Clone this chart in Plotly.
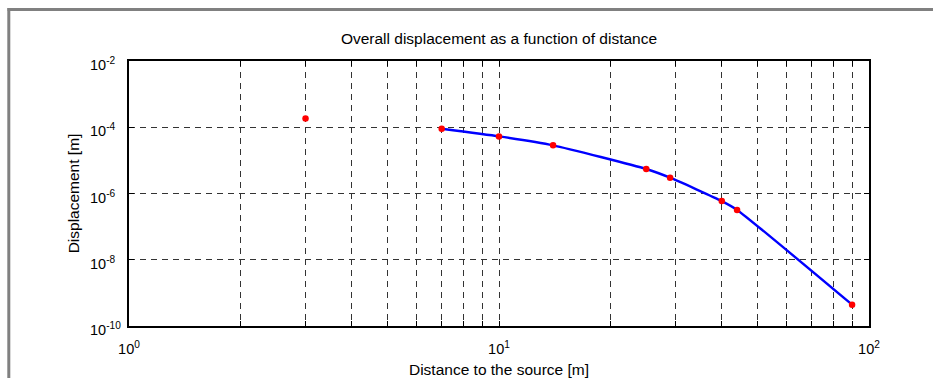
import plotly.graph_objects as go
import math

# Data
dist_all = [3, 7, 10, 14, 25, 29, 40, 44, 90]
disp_all = [1.85e-4, 9.0e-5, 5.3e-5, 2.85e-5, 5.5e-6, 3.0e-6, 5.9e-7, 3.2e-7, 4.4e-10]
dist_curve = [7, 10, 14, 25, 29, 40, 44, 90]
disp_curve = [9.0e-5, 5.3e-5, 2.85e-5, 5.5e-6, 3.0e-6, 5.9e-7, 3.2e-7, 4.4e-10]

x_grid = [m * 10 ** e for e in range(0, 2) for m in range(1, 10)] + [100]
x_text = ["10<sup>0</sup>" if v == 1 else "10<sup>1</sup>" if v == 10 else "10<sup>2</sup>" if v == 100 else "" for v in x_grid]
y_ticks = [1e-10, 1e-8, 1e-6, 1e-4, 1e-2]
y_text = ["10<sup>-10</sup>", "10<sup>-8</sup>", "10<sup>-6</sup>", "10<sup>-4</sup>", "10<sup>-2</sup>"]

FONT = "Arial, Liberation Sans, sans-serif"
LBL = 15.5
TCK = 14.5

fig = go.Figure()
fig.add_trace(go.Scatter(x=dist_curve, y=disp_curve, mode="lines",
                         line=dict(color="#0000ff", width=2.4, shape="spline", smoothing=0.5),
                         hoverinfo="skip", showlegend=False))
fig.add_trace(go.Scatter(x=dist_all, y=disp_all, mode="markers",
                         marker=dict(color="#ff0000", size=6.5),
                         showlegend=False))

grid = dict(showgrid=True, gridcolor="#333333", gridwidth=1, griddash="6px,5px")

fig.update_xaxes(type="log", range=[0, 2], tickmode="array", tickvals=x_grid, ticktext=x_text,
                 ticks="inside", ticklen=5, tickcolor="black", showline=True, linecolor="black",
                 linewidth=1.5, mirror="ticks", zeroline=False, ticklabelstandoff=9,
                 title=dict(text="Distance to the source [m]", font=dict(size=LBL, family=FONT, color="black"), standoff=11),
                 tickfont=dict(size=TCK, family=FONT, color="black"), **grid)
fig.update_yaxes(type="log", range=[-10, -2], tickmode="array", tickvals=y_ticks, ticktext=y_text,
                 ticks="inside", ticklen=5, tickcolor="black", showline=True, linecolor="black",
                 linewidth=1.5, mirror="ticks", zeroline=False, showticklabels=False,
                 title=dict(text="Displacement [m]", font=dict(size=LBL, family=FONT, color="black"), standoff=44),
                 tickfont=dict(size=TCK, family=FONT, color="black"), **grid)

W, H = 933, 378
L, R, T, B = 129, 869, 61, 326
pw, ph = R - L, B - T

def px(x):
    return (x - L) / pw

def py(y):
    return (B - y) / ph

# y tick labels, left-aligned on the "10" like the reference
for v, t in zip(y_ticks, y_text):
    fig.add_annotation(x=px(89), xref="paper", y=math.log10(v), yref="y", text=t, showarrow=False,
                       xanchor="left", yanchor="middle", yshift=-3, borderpad=0,
                       font=dict(size=TCK, family=FONT, color="black"))

# outer frame (gray top and left border)
fig.add_shape(type="line", xref="paper", yref="paper", x0=px(7.5), x1=px(933), y0=py(9.5), y1=py(9.5),
              line=dict(color="#808080", width=3))
fig.add_shape(type="line", xref="paper", yref="paper", x0=px(8.8), x1=px(8.8), y0=py(8), y1=py(378),
              line=dict(color="#808080", width=3))

fig.update_layout(
    width=W, height=H,
    margin=dict(l=L, r=W - R, t=T, b=H - B, autoexpand=False),
    paper_bgcolor="white", plot_bgcolor="white",
    font=dict(family=FONT, size=12, color="black"),
    title=dict(text="Overall displacement as a function of distance", x=(L + R) / 2 / W, xanchor="center",
               y=1 - 39 / H, yanchor="middle", font=dict(size=LBL, family=FONT, color="black")),
)

fig.write_html("out.html")
